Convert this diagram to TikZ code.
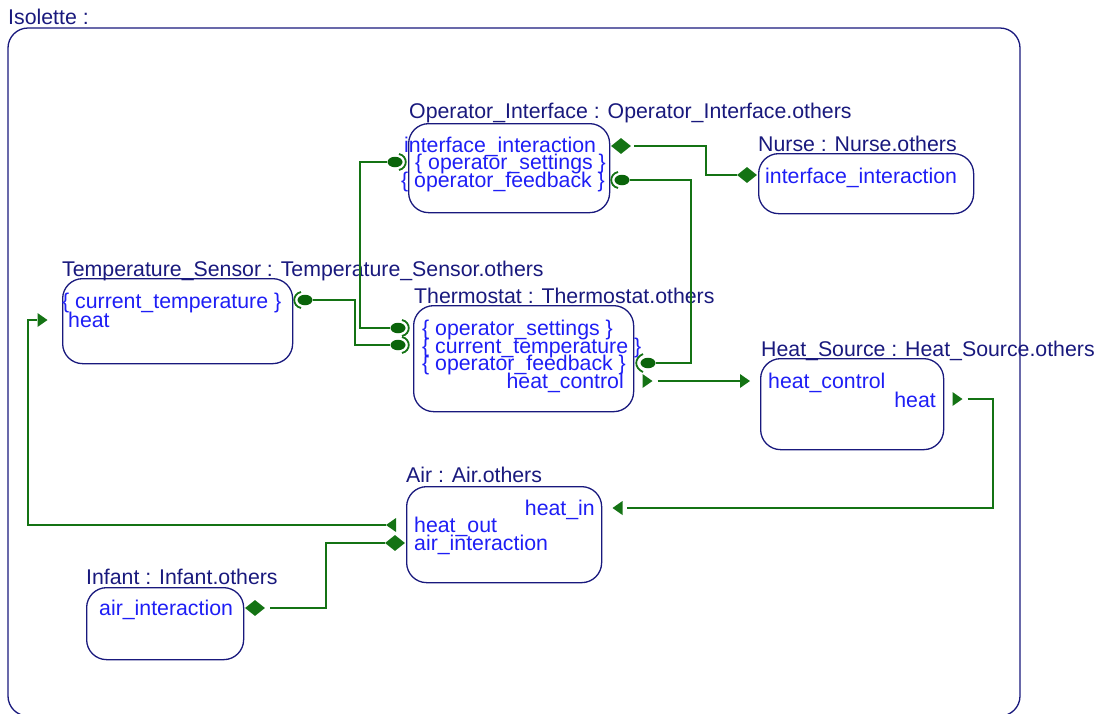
\documentclass[tikz,border=0pt]{standalone}
\usepackage{fontspec}
\setmainfont{Liberation Sans}
\usetikzlibrary{shapes.geometric,calc}
\definecolor{navy}{RGB}{25,25,125}
\definecolor{porttext}{RGB}{30,30,245}
\definecolor{wiregreen}{RGB}{20,115,20}
\definecolor{ballgreen}{RGB}{10,100,10}
\begin{document}
\begin{tikzpicture}[x=1pt,y=-1pt,
  every node/.style={font=\fontsize{21.3}{24}\selectfont},
  part/.style={draw=navy, line width=1.3pt, rounded corners=20pt, anchor=north west, inner sep=0},
  title/.style={text=navy, anchor=base west, inner sep=0},
  ptxt/.style={text=porttext, anchor=base west, inner sep=0},
  ptxtr/.style={text=porttext, anchor=base east, inner sep=0},
  wire/.style={draw=wiregreen, line width=2pt},
  sock/.style={draw=wiregreen, line width=1.8pt},
  dia/.style={diamond, fill=wiregreen, minimum width=20pt, minimum height=16pt, inner sep=0},
  ball/.style={ellipse, fill=ballgreen, minimum width=15pt, minimum height=10.5pt, inner sep=0},
  outR/.style={inner sep=0, minimum width=10pt, minimum height=14pt,
    path picture={\fill[wiregreen] (path picture bounding box.north west) -- (path picture bounding box.east) -- (path picture bounding box.south west) -- cycle;}},
  outL/.style={inner sep=0, minimum width=10pt, minimum height=14pt,
    path picture={\fill[wiregreen] (path picture bounding box.north east) -- (path picture bounding box.west) -- (path picture bounding box.south east) -- cycle;}}
]
\useasboundingbox (0,0) rectangle (1096,713);

% enclosing structure
\node[title] (isoT) at (8,24) {Isolette :};
\draw[draw=navy, line width=1.3pt, rounded corners=20pt] (8,28) rectangle (1020,716);

% parts
\node[part, minimum width=201pt, minimum height=89pt] (oi) at (408,123) {};
\node[title] (oiT) at (409,118) {Operator\_Interface : Operator\_Interface.others};
\node[ptxt] (oiA) at (404,152) {interface\_interaction};
\node[ptxt] (oiB) at (415,169) {\{ operator\_settings \}};
\node[ptxt] (oiC) at (401,187) {\{ operator\_feedback \}};

\node[part, minimum width=215pt, minimum height=60pt] (nu) at (758,153) {};
\node[title] (nuT) at (758,151) {Nurse : Nurse.others};
\node[ptxt] (nuA) at (765,183) {interface\_interaction};

\node[part, minimum width=230pt, minimum height=85pt] (ts) at (62,278) {};
\node[title] (tsT) at (62,276) {Temperature\_Sensor : Temperature\_Sensor.others};
\node[ptxt] (tsA) at (62,308) {\{ current\_temperature \}};
\node[ptxt] (tsB) at (68,327) {heat};

\node[part, minimum width=220pt, minimum height=106pt] (th) at (413,305) {};
\node[title] (thT) at (414,303) {Thermostat : Thermostat.others};
\node[ptxt] (thA) at (422,335) {\{ operator\_settings \}};
\node[ptxt] (thB) at (422,353) {\{ current\_temperature \}};
\node[ptxt] (thC) at (422,370) {\{ operator\_feedback \}};
\node[ptxtr] (thD) at (624,388) {heat\_control};

\node[part, minimum width=183pt, minimum height=91pt] (hs) at (760,358) {};
\node[title] (hsT) at (761,356) {Heat\_Source : Heat\_Source.others};
\node[ptxt] (hsA) at (768,388) {heat\_control};
\node[ptxtr] (hsB) at (936,407) {heat};

\node[part, minimum width=195pt, minimum height=96pt] (air) at (406,486) {};
\node[title] (airT) at (406,482) {Air : Air.others};
\node[ptxtr] (airA) at (595,515) {heat\_in};
\node[ptxt] (airB) at (414,532) {heat\_out};
\node[ptxt] (airC) at (414,550) {air\_interaction};

\node[part, minimum width=157pt, minimum height=72pt] (inf) at (86,587) {};
\node[title] (infT) at (86,584) {Infant : Infant.others};
\node[ptxt] (infA) at (99,615) {air\_interaction};

% ports
\node[dia] (oiP1) at (621,146) {};
\node[dia] (nuP1) at (747,175) {};
\node[dia] (airP3) at (395,543) {};
\node[dia] (infP1) at (255,608) {};
\node[ball] (oiP2) at (395,162) {};
\node[ball] (oiP3) at (622,180) {};
\node[ball] (thP1) at (398,328) {};
\node[ball] (thP2) at (398,345) {};
\node[ball] (thP3) at (648,363) {};
\node[ball] (tsP1) at (305,300) {};
\node[outR] (thP4) at (647.5,381) {};
\node[outR] (hsP1) at (745,381) {};
\node[outR] (hsP2) at (957.5,399) {};
\node[outL] (airP1) at (617.5,508) {};
\node[outL] (airP2) at (391,525) {};
\node[outR] (tsP2) at (42.5,320) {};

% sockets around the required ends
\draw[sock] ($(oiP2)+(4,-8)$) .. controls ($(oiP2)+(13,-6)$) and ($(oiP2)+(13,6)$) .. ($(oiP2)+(4,8)$);
\draw[sock] ($(thP1)+(4,-8)$) .. controls ($(thP1)+(13,-6)$) and ($(thP1)+(13,6)$) .. ($(thP1)+(4,8)$);
\draw[sock] ($(thP2)+(4,-8)$) .. controls ($(thP2)+(13,-6)$) and ($(thP2)+(13,6)$) .. ($(thP2)+(4,8)$);
\draw[sock] ($(oiP3)+(-4,-8)$) .. controls ($(oiP3)+(-13,-6)$) and ($(oiP3)+(-13,6)$) .. ($(oiP3)+(-4,8)$);
\draw[sock] ($(thP3)+(-5,-9)$) .. controls ($(thP3)+(-14,-5)$) and ($(thP3)+(-14,5)$) .. ($(thP3)+(-5,9)$);
\draw[sock] ($(tsP1)+(-4,-8)$) .. controls ($(tsP1)+(-13,-6)$) and ($(tsP1)+(-13,6)$) .. ($(tsP1)+(-4,8)$);

% routing points
\coordinate (k1) at (706,160);
\coordinate (k2) at (691,270);
\coordinate (k3) at (360,240);
\coordinate (k4) at (355,320);
\coordinate (k5) at (993,450);
\coordinate (k6) at (28,420);
\coordinate (k7) at (326,575);

% connectors
\draw[wire, shorten <=3pt] (oiP1.east) -| (k1) |- (nuP1.west);
\draw[wire] (oiP3.east) -| (k2) |- (thP3.east);
\draw[wire] (oiP2.west) -| (k3) |- (thP1.west);
\draw[wire] (tsP1.east) -| (k4) |- (thP2.west);
\draw[wire, shorten <=5pt] (thP4.east) -- (hsP1.west);
\draw[wire, shorten <=5pt, shorten >=4pt] (hsP2.east) -| (k5) |- (airP1.east);
\draw[wire] (airP2.west) -| (k6) |- (tsP2.west);
\draw[wire, shorten >=5pt] (airP3.west) -| (k7) |- (infP1.east);
\end{tikzpicture}
\end{document}
